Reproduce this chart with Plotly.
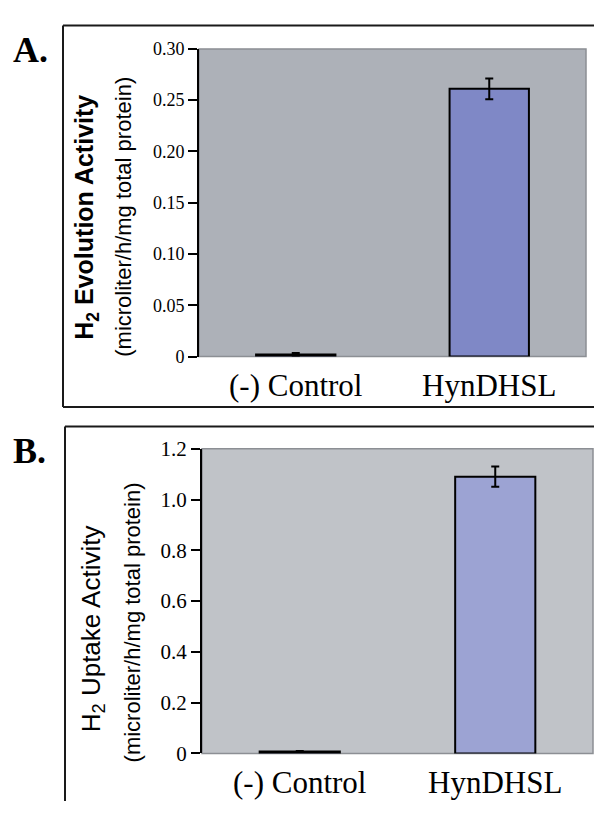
import plotly.graph_objects as go

# ---- data ----
categories = ["(-) Control", "HynDHSL"]
evolution_values = [0.002, 0.261]
evolution_errors = [0.0015, 0.010]
uptake_values = [0.008, 1.09]
uptake_errors = [0.002, 0.04]

evo_tickvals = [0, 0.05, 0.10, 0.15, 0.20, 0.25, 0.30]
evo_ticktext = ["0", "0.05", "0.10", "0.15", "0.20", "0.25", "0.30"]
upt_tickvals = [0, 0.2, 0.4, 0.6, 0.8, 1.0, 1.2]
upt_ticktext = ["0", "0.2", "0.4", "0.6", "0.8", "1.0", "1.2"]

W, H = 594, 813
def px(x): return x / W
def py(y): return 1 - y / H

SERIF = "Liberation Serif, Times New Roman, serif"
SANS = "Liberation Sans, Arial, sans-serif"

fig = go.Figure()

fig.add_trace(go.Bar(
    x=categories, y=evolution_values, xaxis="x", yaxis="y",
    marker=dict(color="#7f88c6", line=dict(color="black", width=2)),
    error_y=dict(type="data", array=evolution_errors, color="black", thickness=2, width=4),
    showlegend=False, hoverinfo="skip"))

fig.add_trace(go.Bar(
    x=categories, y=uptake_values, xaxis="x2", yaxis="y2",
    marker=dict(color="#9ca3d3", line=dict(color="black", width=2)),
    error_y=dict(type="data", array=uptake_errors, color="black", thickness=2, width=4),
    showlegend=False, hoverinfo="skip"))

xcommon = dict(showgrid=False, zeroline=False, showline=False,
               ticks="outside", ticklen=1, tickcolor="rgba(0,0,0,0)",
               tickfont=dict(family=SERIF, size=31, color="black"),
               fixedrange=True)
ycommon = dict(showgrid=False, zeroline=False, showline=True, linecolor="black", linewidth=2,
               ticks="outside", ticklen=9, tickwidth=2, tickcolor="black",
               fixedrange=True)

fig.update_layout(
    width=W, height=H,
    margin=dict(l=0, r=0, t=0, b=0),
    paper_bgcolor="white",
    bargap=0.59,
    xaxis=dict(domain=[px(199), px(586)], anchor="y", **xcommon),
    yaxis=dict(domain=[py(355), py(38)], anchor="x", range=[0, 0.30],
               tickvals=evo_tickvals, ticktext=evo_ticktext,
               tickfont=dict(family=SERIF, size=18, color="black"), **ycommon),
    xaxis2=dict(domain=[px(202), px(593)], anchor="y2", **xcommon),
    yaxis2=dict(domain=[py(764), py(450)], anchor="x2", range=[0, 1.2],
                tickvals=upt_tickvals, ticktext=upt_ticktext,
                tickfont=dict(family=SERIF, size=21, color="black"), **ycommon),
    plot_bgcolor="#adb1b8",
)

shapes = []
shapes.append(dict(type="rect", xref="x2 domain", yref="y2 domain", x0=0, x1=1, y0=0, y1=1,
                   fillcolor="#c0c3c8", line=dict(width=0), layer="below"))
for xr, yr in (("x domain", "y domain"), ("x2 domain", "y2 domain")):
    shapes.append(dict(type="rect", xref=xr, yref=yr, x0=0, x1=1, y0=0, y1=1,
                       line=dict(color="#8c8f94", width=1.5), fillcolor="rgba(0,0,0,0)", layer="below"))
lc = dict(color="#1a1a1a", width=2)
shapes += [
    dict(type="line", xref="paper", yref="paper", x0=px(63), x1=1.0, y0=py(14), y1=py(14), line=lc),
    dict(type="line", xref="paper", yref="paper", x0=px(63), x1=1.0, y0=py(407), y1=py(407), line=lc),
    dict(type="line", xref="paper", yref="paper", x0=px(63), x1=px(63), y0=py(14), y1=py(407), line=lc),
    dict(type="line", xref="paper", yref="paper", x0=px(65), x1=1.0, y0=py(427), y1=py(427), line=lc),
    dict(type="line", xref="paper", yref="paper", x0=px(65), x1=px(65), y0=py(427), y1=0.0, line=lc),
]
fig.update_layout(shapes=shapes)

ann = []
ann.append(dict(text="<b>A.</b>", x=px(11), y=py(39), xref="paper", yref="paper",
                xanchor="left", yanchor="middle", showarrow=False,
                font=dict(family=SERIF, size=36, color="black")))
ann.append(dict(text="<b>B.</b>", x=px(11), y=py(452), xref="paper", yref="paper",
                xanchor="left", yanchor="middle", showarrow=False,
                font=dict(family=SERIF, size=36, color="black")))
ann.append(dict(text="<b>H<sub>2</sub> Evolution Activity</b>", x=px(86), y=py(212),
                xref="paper", yref="paper", textangle=-90, showarrow=False,
                xanchor="center", yanchor="middle",
                font=dict(family=SANS, size=25, color="black")))
ann.append(dict(text="(microliter/h/mg total protein)", x=px(124), y=py(211),
                xref="paper", yref="paper", textangle=-90, showarrow=False,
                xanchor="center", yanchor="middle",
                font=dict(family=SANS, size=22, color="black")))
ann.append(dict(text="H<sub>2</sub> Uptake Activity", x=px(92), y=py(636),
                xref="paper", yref="paper", textangle=-90, showarrow=False,
                xanchor="center", yanchor="middle",
                font=dict(family=SANS, size=26, color="black")))
ann.append(dict(text="(microliter/h/mg total protein)", x=px(132), y=py(629),
                xref="paper", yref="paper", textangle=-90, showarrow=False,
                xanchor="center", yanchor="middle",
                font=dict(family=SANS, size=22, color="black")))
fig.update_layout(annotations=ann)

fig.write_html("out.html",
               config={"displayModeBar": False},
               post_script="document.body.style.margin='0';document.documentElement.style.overflow='hidden';")
